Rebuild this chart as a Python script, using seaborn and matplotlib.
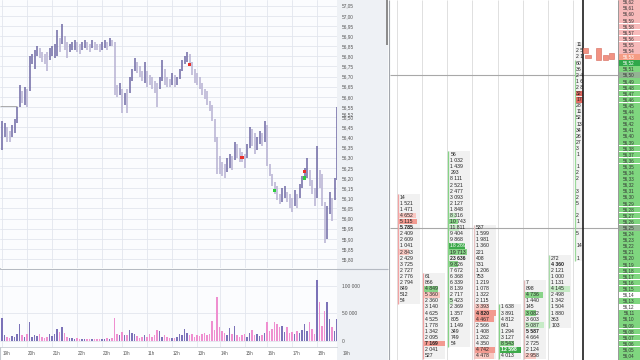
import numpy as np
import pandas as pd
import matplotlib
matplotlib.use("Agg")
import matplotlib.pyplot as plt
import matplotlib.transforms as mtrans
from matplotlib.patches import Rectangle
import seaborn as sns

# ---------------- price chart data (bars, high / low) ----------------
bar_high = [56.48, 56.47, 56.45, 56.43, 56.46, 56.49, 56.55, 56.66, 56.63, 56.65,
            56.64, 56.80, 56.81, 56.83, 56.85, 56.84, 56.82, 56.81, 56.82, 56.84,
            56.85, 56.86, 56.93, 56.89, 56.96, 56.90, 56.87, 56.86, 56.87, 56.88,
            56.87, 56.86, 56.87, 56.88, 56.87, 56.86, 56.88, 56.87, 56.86, 56.86,
            56.87, 56.88, 56.87, 56.89, 56.88, 56.87, 56.66, 56.67, 56.64, 56.62,
            56.64, 56.70, 56.74, 56.79, 56.77, 56.75, 56.73, 56.77, 56.73, 56.71,
            56.70, 56.68, 56.67, 56.70, 56.78, 56.74, 56.70, 56.69, 56.72, 56.71,
            56.70, 56.74, 56.78, 56.80, 56.82, 56.81, 56.77, 56.74, 56.72, 56.70,
            56.67, 56.64, 56.63, 56.58, 56.56, 56.49, 56.40, 56.31, 56.28, 56.27,
            56.30, 56.32, 56.31, 56.38, 56.37, 56.35, 56.33, 56.32, 56.37, 56.45,
            56.44, 56.42, 56.40, 56.43, 56.42, 56.48, 56.46, 56.27, 56.22, 56.18,
            56.16, 56.12, 56.15, 56.16, 56.13, 56.12, 56.10, 56.14, 56.12, 56.17,
            56.21, 56.25, 56.30, 56.24, 56.19, 56.15, 56.36, 56.24, 56.22, 56.08,
            56.06, 56.13, 56.10, 56.20, 56.55]
bar_low = [56.34, 56.40, 56.38, 56.38, 56.40, 56.42, 56.47, 56.55, 56.57, 56.56,
           56.55, 56.63, 56.76, 56.74, 56.80, 56.79, 56.77, 56.76, 56.73, 56.78,
           56.80, 56.79, 56.80, 56.82, 56.86, 56.83, 56.79, 56.82, 56.83, 56.83,
           56.82, 56.81, 56.83, 56.84, 56.83, 56.82, 56.84, 56.83, 56.83, 56.82,
           56.83, 56.84, 56.83, 56.85, 56.85, 56.61, 56.60, 56.61, 56.52, 56.56,
           56.52, 56.62, 56.68, 56.73, 56.72, 56.70, 56.68, 56.67, 56.65, 56.66,
           56.64, 56.62, 56.55, 56.64, 56.68, 56.66, 56.65, 56.65, 56.66, 56.65,
           56.66, 56.69, 56.73, 56.76, 56.77, 56.75, 56.71, 56.67, 56.66, 56.64,
           56.61, 56.59, 56.56, 56.53, 56.48, 56.38, 56.22, 56.22, 56.21, 56.20,
           56.23, 56.25, 56.24, 56.29, 56.30, 56.28, 56.28, 56.25, 56.30, 56.35,
           56.36, 56.32, 56.34, 56.37, 56.36, 56.38, 56.26, 56.21, 56.16, 56.12,
           56.09, 56.07, 56.08, 56.10, 56.08, 56.05, 56.03, 56.06, 56.05, 56.10,
           56.15, 56.19, 56.20, 56.16, 56.12, 56.06, 56.10, 56.15, 56.06, 55.88,
           55.90, 56.02, 55.99, 56.09, 56.19]
volume_k = [41, 10, 8, 5, 9, 8, 12, 30, 10, 8, 12, 35, 8, 10, 9, 12, 7, 6, 8, 13,
            9, 12, 21, 17, 26, 15, 8, 5, 6, 4, 5, 3, 3, 3, 4, 3, 3, 4, 3, 3,
            4, 3, 5, 4, 6, 42, 12, 10, 17, 10, 11, 20, 15, 12, 9, 6, 8, 10, 7, 12,
            7, 10, 19, 18, 8, 10, 8, 6, 5, 6, 7, 12, 10, 22, 14, 10, 12, 8, 10, 9,
            12, 15, 10, 12, 37, 20, 80, 25, 18, 15, 10, 23, 12, 28, 10, 7, 10, 12, 8, 14,
            20, 10, 12, 9, 11, 14, 35, 18, 22, 34, 30, 25, 28, 17, 25, 15, 17, 12, 18, 14,
            20, 30, 18, 35, 22, 12, 110, 70, 28, 55, 70, 40, 25, 18, 40]
hour_idx = [0, 10, 20, 30, 40, 48, 58, 68, 78, 87, 97, 106, 116, 126, 136]
hour_labels = ["19h", "20h", "21h", "22h", "23h", "10h", "11h", "12h", "13h",
               "14h", "15h", "16h", "17h", "18h", "19h"]
mark_idx = [75, 96, 109, 121, 121]
mark_price = [56.76, 56.30, 56.14, 56.23, 56.20]
mark_kind = ["sell", "sell", "buy", "sell", "buy"]
prev_close = 56.555
last_price = 56.52
best_ask = 56.53

# ---------------- footprint data ----------------
col_tops = [56.30, 56.17, 56.37, 56.25, 56.12, 56.16, 56.20]
col1 = [14, 1521, 1471, 4652, 5115, 5785, 2409, 2609, 1041, 2843, 2429, 3725, 2727, 2776, 2794, 849, 512, 54]
hl1 = [0, 0, 0, 1, 2, 0, 0, 0, 0, 1, 0, 0, 0, 0, 0, 0, 0, 0]
col2 = [61, 866, 4849, 5360, 2360, 3140, 4625, 4525, 1778, 1342, 2095, 7169, 2041, 527]
hl2 = [0, 0, 4, 1, 0, 0, 0, 0, 0, 0, 0, 2, 0, 0]
col3 = [56, 1032, 1439, 293, 8111, 2521, 2477, 3093, 2127, 1848, 8316, 10743, 11811, 9404, 9868, 18269,
        19713, 23636, 9826, 7672, 6368, 6339, 8139, 2717, 5423, 2369, 1357, 805, 1149, 349, 749, 54]
hl3 = [0, 0, 0, 0, 0, 0, 0, 0, 0, 0, 3, 4, 3, 0, 0, 5, 4, 0, 4, 0, 0, 0, 0, 0, 3, 0, 0, 0, 0, 0, 0, 0]
col4 = [537, 1599, 1981, 1360, 221, 408, 731, 1206, 753, 1219, 1078, 1322, 2115, 3393, 4820, 4467,
        2566, 1408, 1262, 4350, 4742, 4478]
hl4 = [0, 0, 0, 0, 0, 0, 0, 0, 0, 0, 0, 0, 0, 1, 2, 2, 0, 0, 0, 0, 2, 1]
col5 = [1638, 3891, 4812, 641, 1294, 3127, 8543, 12598, 4013]
hl5 = [0, 0, 0, 0, 0, 0, 4, 5, 0]
col6 = [7, 898, 4736, 1440, 145, 3082, 3603, 5087, 5587, 4664, 2725, 2124, 2958]
hl6 = [0, 0, 4, 0, 0, 4, 0, 3, 0, 0, 0, 0, 1]
col7 = [272, 4360, 2121, 1000, 1131, 4145, 2498, 1342, 1504, 1880, 363, 103]
hl7 = [0, 0, 0, 0, 0, 3, 0, 0, 0, 0, 0, 0]
col8_prices = [56.55, 56.54, 56.53, 56.52, 56.51, 56.50, 56.49, 56.48, 56.47, 56.46, 56.45, 56.44,
               56.43, 56.42, 56.41, 56.40, 56.39, 56.38, 56.37, 56.35, 56.34, 56.33, 56.31, 56.30,
               56.29, 56.27, 56.26, 56.24, 56.22, 56.20]
col8_text = ["11", "2 5", "2 1", "60", "36", "2 4", "1 6", "2 8", "32", "17", "28", "11", "52", "13",
             "34", "26", "27", "3", "1", "1", "2", "2", "3", "2", "5", "2", "1", "5", "14", "1"]
col8_hl = [0, 0, 0, 0, 0, 0, 0, 0, 2, 2, 0, 0, 0, 0, 0, 0, 0, 0, 0, 0, 0, 0, 0, 0, 0, 0, 0, 0, 0, 0]
mini_x = [585.8, 588.0, 598.7, 605.8, 611.5]
mini_lo = [56.536, 56.528, 56.525, 56.525, 56.526]
mini_hi = [56.544, 56.533, 56.544, 56.533, 56.536]
ladder_top, ladder_bottom = 56.62, 56.04
level_lines = [56.50, 56.25]
empty_levels = [56.14, 56.12]

# ---------------- style ----------------
sns.set_theme(style="white")
plt.rcParams["font.family"] = ["Liberation Sans", "DejaVu Sans"]

W, H = 640, 360
fig = plt.figure(figsize=(6.4, 3.6), dpi=100, facecolor="white")


def px_axes(l, t, r, b):
    return fig.add_axes([l / W, 1 - b / H, (r - l) / W, (b - t) / H])


bg = px_axes(0, 0, W, H)
bg.set_xlim(0, W)
bg.set_ylim(H, 0)
bg.axis("off")
bg.add_patch(Rectangle((337, 0), 51, 360, color="#eef1f5", lw=0))
bg.add_patch(Rectangle((385.5, 0), 2.6, 45, color="#8c8c8c", lw=0))
bg.vlines(388.8, 0, 360, color="#a3a7ad", lw=0.8)
bg.vlines(0.4, 0, 360, color="#c6cad0", lw=0.8)
bg.hlines(269.3, 0, 388, color="#b5bac2", lw=0.8)

hi = np.array(bar_high)
lo = np.array(bar_low)
n = len(hi)
idx = np.arange(n)
mid = (hi + lo) / 2
up = np.r_[True, mid[1:] >= mid[:-1]]

# ---- price panel
ax = px_axes(0, 0, 337, 268)
ax.set_facecolor("#fbfcfe")
price_ticks = np.round(np.arange(55.80, 57.0501, 0.05), 2)
hv = [h for h in hour_idx if h <= n - 1]
ax.vlines(idx, lo, hi, colors=np.where(up, "#6f69a4", "#b7b1d2"), lw=1.1, zorder=2)
ax.hlines(prev_close, -0.8, 6, color="#8a8a8a", lw=0.5, zorder=2)
mk = pd.DataFrame({"i": mark_idx, "p": mark_price, "k": mark_kind})
sns.scatterplot(data=mk, x="i", y="p", hue="k", palette={"sell": "#e8312a", "buy": "#2ecc40"},
                marker="s", s=5, linewidth=0, legend=False, ax=ax, zorder=3)
ax.set_xlabel("")
ax.set_ylabel("")
ax.set_xlim(-0.8, n - 1)
ax.set_ylim(55.756, 57.078)
ax.set_yticks(price_ticks)
ax.set_yticklabels([f"{t:.2f}".replace(".", ",") for t in price_ticks])
ax.yaxis.tick_right()
ax.tick_params(axis="y", length=0, pad=3.6, labelsize=3.4, labelcolor="#555555")
ax.set_xticks(hv)
ax.set_xticklabels([])
ax.tick_params(axis="x", length=0)
ax.grid(True, color="#e2e6ee", lw=0.6)
ax.set_axisbelow(True)
for s in ax.spines.values():
    s.set_visible(False)
tr = mtrans.blended_transform_factory(ax.transAxes, ax.transData)
ax.text(1.0 + 5 / 337, last_price - 0.008, f"{last_price:.2f}".replace(".", ","), transform=tr,
        fontsize=3.4, color="#555555", va="center", ha="left", clip_on=False)

# ---- volume panel
axv = px_axes(0, 270, 337, 347)
axv.set_facecolor("#fbfcfe")
dfv = pd.DataFrame({"i": idx, "vol": np.array(volume_k) * 1000, "dir": np.where(up, "up", "down")})
sns.barplot(data=dfv, x="i", y="vol", hue="dir", palette={"up": "#7b72b8", "down": "#ef8fd0"},
            native_scale=True, dodge=False, width=0.6, legend=False, errorbar=None,
            saturation=1, linewidth=0, ax=axv)
axv.set_xlabel("")
axv.set_ylabel("")
axv.set_xlim(-0.8, n - 1)
axv.set_ylim(-10850, 128400)
axv.set_yticks([0, 50000, 100000])
axv.set_yticklabels(["0", "50 000", "100 000"])
axv.yaxis.tick_right()
axv.tick_params(axis="y", length=0, pad=3.6, labelsize=3.5, labelcolor="#555555")
axv.set_xticks(hv)
axv.set_xticklabels([])
axv.tick_params(axis="x", length=0)
axv.grid(True, color="#e2e6ee", lw=0.6)
axv.set_axisbelow(True)
for s in axv.spines.values():
    s.set_visible(False)
axv.spines["bottom"].set_visible(True)
axv.spines["bottom"].set_color("#c9cdd4")
axv.spines["bottom"].set_linewidth(0.6)
trv = mtrans.blended_transform_factory(axv.transData, axv.transAxes)
for h, lab in zip(hour_idx, hour_labels):
    axv.text(h + 0.4, -0.08, lab, transform=trv, fontsize=3.3, color="#555555",
             ha="left", va="center", clip_on=False)

# ---- footprint panel
fp = px_axes(390, 0, 640, 360)
fp.set_xlim(390, 640)
fp.set_ylim(56.0331, 56.6233)
fp.axis("off")
y0, y1 = fp.get_ylim()
grid_x = [396.7 + 25.2 * k for k in range(8)]
fp.vlines(grid_x, y0, y1, color="#dadada", lw=0.6, zorder=1)
fp.hlines(level_lines, 390, 618, color="#a8a8a8", lw=0.8, zorder=3)

hl_colors = {1: "#f9c8c2", 2: "#f29a90", 3: "#c6ebc6", 4: "#88d488", 5: "#3daa4a"}
border_colors = ["#f2a3a3", "#f2a3a3", "#86d386", "#e6c2c2", "#86d386", "#e0b8b8", "#a8dca8"]
cols = [col1, col2, col3, col4, col5, col6, col7]
hls = [hl1, hl2, hl3, hl4, hl5, hl6, hl7]
cell_w = 22
for k, (top, vals, hl) in enumerate(zip(col_tops, cols, hls)):
    x0 = 398 + 25.2 * k
    prices = np.round(top - 0.01 * np.arange(len(vals)), 2)
    vals = np.array(vals)
    vmax = vals.max()
    fp.barh(prices, cell_w, left=x0, height=0.0101, color="#f1f1f1", lw=0, zorder=2)
    hl = np.array(hl)
    m = hl > 0
    fp.barh(prices[m], cell_w * vals[m] / vmax, left=x0, height=0.0095,
            color=[hl_colors[c] for c in hl[m]], lw=0, zorder=2.5)
    fp.vlines(x0, prices[-1] - 0.005, prices[0] + 0.005, color=border_colors[k], lw=0.9, zorder=3)
    for p, v, c in zip(prices, vals, hl):
        fp.text(x0 + 2, p, f"{v:,}".replace(",", " "), fontsize=3.7,
                color="white" if c == 5 else "#222222",
                fontweight="bold" if v == vmax else "normal",
                ha="left", va="center", zorder=4)

# narrow last column (cut by the current-time line)
x8 = 574.6
p8 = np.array(col8_prices)
h8 = np.array(col8_hl)
fp.barh(np.round(np.arange(56.55, 56.195, -0.01), 2), 8.6, left=x8, height=0.0101,
        color="#f3f3f3", lw=0, zorder=2)
fp.barh(p8[h8 > 0], 8.6, left=x8, height=0.0095, color="#e46a62", lw=0, zorder=2.5)
fp.vlines(x8, 56.195, 56.525, color="#9ad89a", lw=0.9, zorder=3)
for p, t in zip(p8, col8_text):
    fp.text(x8 + 1.6, p, t, fontsize=3.7, color="#222222", ha="left", va="center",
            zorder=4, clip_on=True)

fp.vlines(583.4, y0, y1, color="#1e1e1e", lw=1.2, zorder=5)

# mini trade boxes
for x, a, b in zip(mini_x, mini_lo, mini_hi):
    fp.add_patch(Rectangle((x - 2.6, a), 5.2, b - a, facecolor="#f29282",
                           edgecolor="#d4685a", lw=0.4, zorder=5))

# price ladder
ladder = np.round(np.arange(ladder_top, ladder_bottom - 0.0001, -0.01), 2)
lcol = []
tcol = []
for p in ladder:
    if p > best_ask + 1e-9:
        lcol.append("#f7baba"); tcol.append("#333333")
    elif abs(p - best_ask) < 1e-9:
        lcol.append("#f59c84"); tcol.append("white")
    elif abs(p - last_price) < 1e-9:
        lcol.append("#2fa84a"); tcol.append("white")
    elif any(abs(p - q) < 1e-9 for q in level_lines):
        lcol.append("#93b293"); tcol.append("#333333")
    elif any(abs(p - q) < 1e-9 for q in empty_levels):
        lcol.append("#ffffff"); tcol.append("#333333")
    else:
        lcol.append("#7fd67f"); tcol.append("#333333")
fp.barh(ladder, 22, left=618, height=0.0093, color=lcol, lw=0, zorder=2)
fp.barh([ladder_bottom - 0.01], 22, left=618, height=0.0093, color="#7fd67f", lw=0, zorder=2)
fp.vlines(618, y0, y1, color="#9a9a9a", lw=0.7, zorder=3)
for p, c in zip(ladder, tcol):
    fp.text(629, p, f"{p:.2f}".replace(".", ","), fontsize=3.3, color=c,
            ha="center", va="center", zorder=4)

fig.savefig("out.png", dpi=100, facecolor="white")
